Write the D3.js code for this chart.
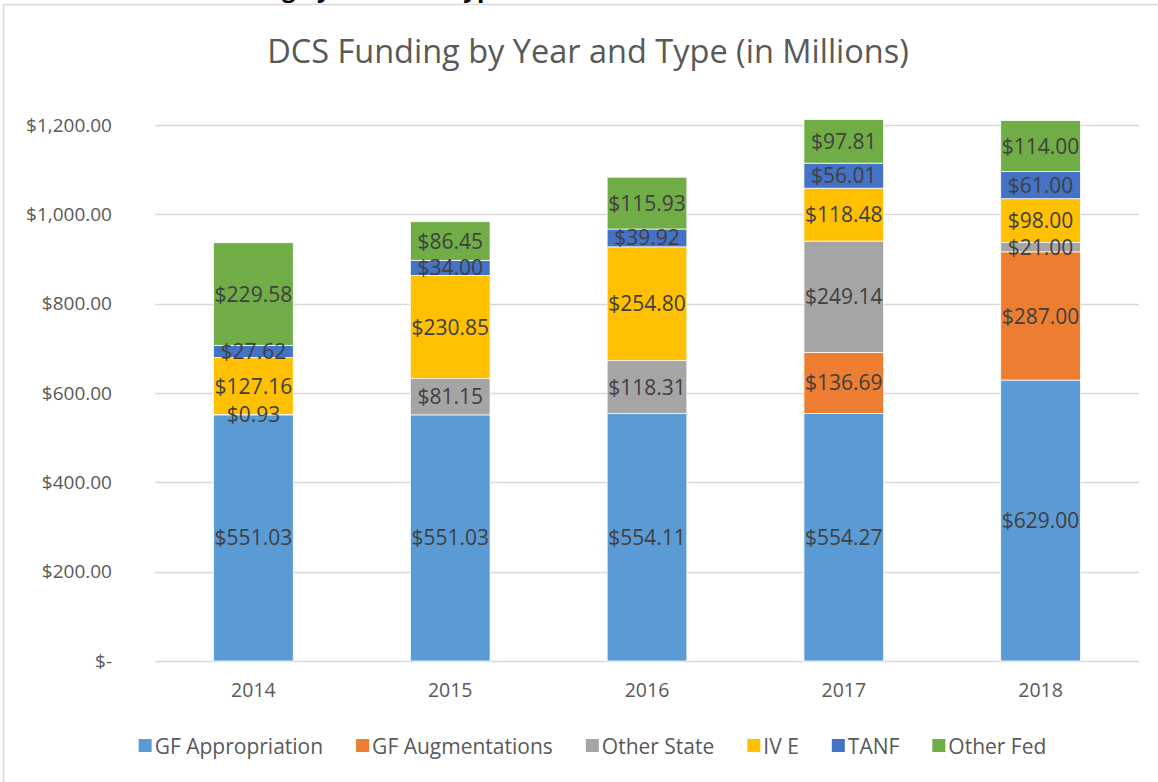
<!DOCTYPE html>
<html>
<head>
<meta charset="utf-8">
<script src="https://cdn.jsdelivr.net/npm/d3@7"></script>
<style>
  html, body { margin: 0; padding: 0; background: #fff; }
  svg { display: block; font-family: "Open Sans", "Noto Sans", sans-serif; }
</style>
</head>
<body>
<svg id="chart" width="1158" height="782"></svg>
<script>
const years = ['2014', '2015', '2016', '2017', '2018'];
const seriesNames = ['GF Appropriation', 'GF Augmentations', 'Other State', 'IV E', 'TANF', 'Other Fed'];
const seriesColors = ['#5b9bd5', '#ed7d31', '#a5a5a5', '#ffc000', '#4472c4', '#70ad47'];

const gfAppropriation = [551.03, 551.03, 554.11, 554.27, 629.0];
const gfAugmentations = [0, 0, 0, 136.69, 287.0];
const otherState = [0.93, 81.15, 118.31, 249.14, 21.0];
const ivE = [127.16, 230.85, 254.8, 118.48, 98.0];
const tanf = [27.62, 34.0, 39.92, 56.01, 61.0];
const otherFed = [229.58, 86.45, 115.93, 97.81, 114.0];

const yTicks = [0, 200, 400, 600, 800, 1000, 1200];

const W = 1158, H = 782;
const plot = { left: 155, right: 1139, top: 125, bottom: 661 };
const svg = d3.select('#chart');

const table = years.map((year, i) => ({
  year,
  'GF Appropriation': gfAppropriation[i],
  'GF Augmentations': gfAugmentations[i],
  'Other State': otherState[i],
  'IV E': ivE[i],
  'TANF': tanf[i],
  'Other Fed': otherFed[i]
}));
const stacked = d3.stack().keys(seriesNames)(table);

const x = d3.scaleBand().domain(years).range([plot.left, plot.right]).paddingInner(0.595).paddingOuter(0.2975);
const y = d3.scaleLinear().domain([0, 1200]).range([plot.bottom, plot.top]);
const color = d3.scaleOrdinal(seriesNames, seriesColors);

const money = d3.format(',.2f');
const fmtTick = (v) => (v === 0 ? '$-' : `$${money(v)}`);

// chart frame (runs past the screenshot on the right and bottom)
svg.append('path')
  .attr('d', `M3.5,${H + 5} V4.5 H${W + 5}`)
  .attr('fill', 'none')
  .attr('stroke', '#d9d9d9')
  .attr('stroke-width', 1.5);

// document heading, cropped by the screenshot: only its descenders show
const cut = svg.append('text')
  .attr('y', -3)
  .attr('font-size', 24)
  .attr('font-weight', 'bold')
  .attr('fill', '#000')
  .text('Funding by Year and Type');
cut.attr('x', 282 - cut.node().getSubStringLength(0, 6));

svg.append('text')
  .attr('x', 588)
  .attr('y', 63)
  .attr('text-anchor', 'middle')
  .attr('font-size', 32.5)
  .attr('fill', '#595959')
  .text('DCS Funding by Year and Type (in Millions)');

// gridlines
svg.append('g')
  .selectAll('line')
  .data(yTicks)
  .join('line')
  .attr('x1', plot.left)
  .attr('x2', plot.right)
  .attr('y1', (d) => Math.round(y(d)) + 0.5)
  .attr('y2', (d) => Math.round(y(d)) + 0.5)
  .attr('stroke', '#d9d9d9')
  .attr('stroke-width', 1.3);

const yAxis = svg.append('g')
  .attr('transform', `translate(${plot.left - 43},0)`)
  .call(d3.axisLeft(y).tickValues(yTicks).tickFormat(fmtTick).tickSize(0).tickPadding(0));
yAxis.select('.domain').remove();
yAxis.selectAll('text')
  .attr('font-family', '"Open Sans", sans-serif')
  .attr('font-size', 19)
  .attr('fill', '#595959');

const xAxis = svg.append('g')
  .attr('transform', `translate(0,${plot.bottom})`)
  .call(d3.axisBottom(x).tickSize(0).tickPadding(22));
xAxis.select('.domain').remove();
xAxis.selectAll('text')
  .attr('font-family', '"Open Sans", sans-serif')
  .attr('font-size', 19.5)
  .attr('fill', '#595959');

// bars
const layers = svg.append('g')
  .selectAll('g')
  .data(stacked)
  .join('g')
  .attr('fill', (s) => color(s.key));

layers.selectAll('rect')
  .data((s) => s)
  .join('rect')
  .attr('x', (d) => x(d.data.year))
  .attr('width', x.bandwidth())
  .attr('y', (d) => y(d[1]))
  .attr('height', (d) => y(d[0]) - y(d[1]))
  .attr('stroke', '#fff')
  .attr('stroke-width', 0.75);

// data labels, skipped for empty segments
svg.append('g')
  .selectAll('g')
  .data(stacked)
  .join('g')
  .selectAll('text')
  .data((s) => s.filter((d) => d[1] - d[0] > 0))
  .join('text')
  .attr('x', (d) => x(d.data.year) + x.bandwidth() / 2)
  .attr('y', (d) => (y(d[0]) + y(d[1])) / 2)
  .attr('dy', '0.36em')
  .attr('text-anchor', 'middle')
  .attr('font-size', 21)
  .attr('fill', '#404040')
  .text((d) => `$${money(d[1] - d[0])}`);

// legend
const legend = svg.append('g').attr('transform', 'translate(0,746)');
const items = legend.selectAll('g')
  .data(seriesNames)
  .join('g');
items.append('rect')
  .attr('y', -7)
  .attr('width', 13)
  .attr('height', 13)
  .attr('fill', (d) => color(d));
items.append('text')
  .attr('x', 16)
  .attr('dy', '0.36em')
  .attr('font-size', 21)
  .attr('fill', '#595959')
  .text((d) => d);

const gap = 33;
let cursor = 0;
const offsets = [];
items.each(function () {
  offsets.push(cursor);
  cursor += 16 + d3.select(this).select('text').node().getComputedTextLength() + gap;
});
const total = cursor - gap;
const start = 592.5 - total / 2;
items.attr('transform', (d, i) => `translate(${start + offsets[i]},0)`);
</script>
</body>
</html>
